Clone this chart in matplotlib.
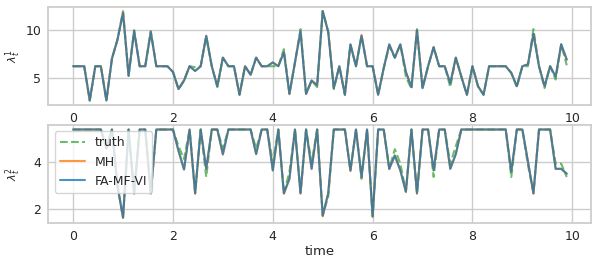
import numpy as np
import matplotlib
matplotlib.use("Agg")
import matplotlib.pyplot as plt
import seaborn as sns

# time grid (90 steps of 1/9)
time = np.arange(90) / 9.0

# lambda^1 series
vi1 = [6.2, 6.2, 6.2, 2.6, 6.2, 6.2, 2.6, 7.0, 9.0, 11.8,
       5.2, 9.9, 6.2, 6.2, 9.8, 6.2, 6.2, 6.2, 5.6, 3.8,
       4.7, 6.2, 5.7, 6.2, 9.4, 6.2, 4.1, 7.1, 6.2, 6.2,
       3.2, 6.2, 5.3, 7.1, 6.2, 6.2, 6.6, 6.2, 7.7, 3.3,
       6.6, 9.9, 3.3, 4.7, 4.2, 12.0, 9.8, 3.9, 6.2, 3.2,
       8.5, 6.2, 9.4, 6.2, 6.2, 3.2, 6.0, 8.5, 7.1, 8.5,
       5.6, 4.0, 10.0, 3.9, 6.2, 8.2, 6.2, 6.2, 4.4, 7.1,
       5.1, 3.2, 6.2, 4.1, 3.2, 6.2, 6.2, 6.2, 6.2, 5.5,
       4.1, 6.2, 6.4, 9.6, 6.2, 4.1, 6.2, 5.1, 8.5, 6.9]
truth1 = [6.2, 6.2, 6.2, 2.6, 6.2, 6.2, 2.6, 7.0, 9.0, 12.0,
          5.2, 10.0, 6.2, 6.2, 9.9, 6.2, 6.2, 6.2, 5.6, 3.8,
          4.7, 6.2, 6.1, 6.2, 9.3, 6.2, 4.0, 7.1, 6.2, 6.2,
          3.2, 6.2, 5.3, 7.1, 6.2, 6.2, 6.2, 6.2, 8.0, 3.3,
          6.6, 10.1, 3.3, 4.7, 4.0, 12.0, 9.8, 3.8, 6.2, 3.2,
          8.5, 6.2, 9.4, 6.2, 6.2, 3.2, 6.0, 8.3, 7.1, 8.5,
          5.1, 3.8, 10.1, 3.9, 6.2, 8.2, 6.2, 6.2, 4.0, 7.1,
          5.1, 3.2, 6.2, 4.1, 3.2, 6.2, 6.2, 6.2, 6.2, 5.5,
          4.0, 6.2, 6.2, 10.1, 6.2, 3.9, 6.2, 4.8, 8.5, 6.3]
mh1 = [6.2, 6.2, 6.2, 2.6, 6.2, 6.2, 2.6, 7.0, 9.0, 11.9,
       5.2, 9.9, 6.2, 6.2, 9.8, 6.2, 6.2, 6.2, 5.6, 3.8,
       4.7, 6.2, 5.7, 6.2, 9.4, 6.2, 4.1, 7.1, 6.2, 6.2,
       3.2, 6.2, 5.3, 7.1, 6.2, 6.2, 6.6, 6.2, 7.7, 3.3,
       6.6, 9.9, 3.3, 4.7, 4.2, 12.0, 9.8, 3.9, 6.2, 3.2,
       8.5, 6.2, 9.5, 6.2, 6.2, 3.2, 6.0, 8.5, 7.1, 8.5,
       5.6, 4.0, 10.0, 3.9, 6.2, 8.2, 6.2, 6.2, 4.4, 7.1,
       5.1, 3.2, 6.2, 4.1, 3.2, 6.2, 6.2, 6.2, 6.2, 5.5,
       4.1, 6.2, 6.4, 9.6, 6.2, 4.1, 6.2, 5.1, 8.5, 6.9]

# lambda^2 series
vi2 = [5.41, 5.41, 5.41, 5.41, 5.41, 5.41, 4.6, 5.41, 3.0, 1.65,
       5.41, 2.69, 5.41, 5.41, 2.69, 5.41, 5.41, 5.41, 5.41, 4.5,
       3.7, 5.41, 2.69, 5.41, 3.73, 5.41, 5.41, 4.36, 5.41, 5.41,
       5.41, 5.41, 5.41, 4.36, 5.41, 5.41, 3.66, 5.41, 2.69, 3.3,
       5.41, 2.69, 5.41, 3.73, 5.41, 1.73, 2.69, 5.41, 5.41, 5.41,
       3.66, 5.41, 3.38, 5.41, 1.7, 5.41, 5.41, 3.73, 4.3, 3.66,
       2.76, 5.41, 2.69, 5.41, 5.41, 3.66, 5.41, 5.41, 3.73, 4.36,
       5.41, 5.41, 5.41, 5.41, 5.41, 5.41, 5.41, 5.41, 5.41, 3.6,
       5.41, 5.41, 4.05, 2.69, 5.41, 5.41, 5.41, 3.73, 3.73, 3.52]
truth2 = [5.41, 5.41, 5.41, 5.41, 5.41, 5.41, 4.6, 5.41, 3.0, 1.65,
          5.41, 2.69, 5.41, 5.41, 2.69, 5.41, 5.41, 5.41, 5.41, 4.7,
          4.15, 5.41, 2.69, 5.41, 3.38, 5.41, 5.41, 4.6, 5.41, 5.41,
          5.41, 5.41, 5.41, 4.6, 5.41, 5.41, 4.0, 5.41, 2.69, 3.6,
          5.41, 2.69, 5.41, 4.0, 5.41, 1.73, 2.55, 5.41, 5.41, 5.41,
          3.66, 5.41, 3.3, 5.41, 1.7, 5.41, 5.41, 3.73, 4.57, 3.95,
          2.76, 5.41, 2.69, 5.41, 5.41, 3.38, 5.41, 5.41, 3.95, 4.7,
          5.41, 5.41, 5.41, 5.41, 5.41, 5.41, 5.41, 5.41, 5.41, 3.38,
          5.41, 5.41, 3.9, 2.69, 5.41, 5.41, 5.41, 3.95, 3.95, 3.38]
mh2 = [5.41, 5.41, 5.41, 5.41, 5.41, 5.41, 4.6, 5.41, 3.0, 1.62,
       5.41, 2.66, 5.41, 5.41, 2.66, 5.41, 5.41, 5.41, 5.41, 4.5,
       3.7, 5.41, 2.66, 5.41, 3.73, 5.41, 5.41, 4.33, 5.41, 5.41,
       5.41, 5.41, 5.41, 4.36, 5.41, 5.41, 3.66, 5.41, 2.66, 3.3,
       5.41, 2.66, 5.41, 3.73, 5.41, 1.70, 2.69, 5.41, 5.41, 5.41,
       3.63, 5.41, 3.38, 5.41, 1.67, 5.41, 5.41, 3.73, 4.3, 3.66,
       2.73, 5.41, 2.66, 5.41, 5.41, 3.66, 5.41, 5.41, 3.73, 4.36,
       5.41, 5.41, 5.41, 5.41, 5.41, 5.41, 5.41, 5.41, 5.41, 3.6,
       5.41, 5.41, 4.05, 2.66, 5.41, 5.41, 5.41, 3.73, 3.73, 3.52]

x_ticks = [0, 2, 4, 6, 8, 10]

sns.set_theme(style="whitegrid")
plt.rcParams['font.family'] = ['DejaVu Sans']

fig = plt.figure(figsize=(5.98, 2.65), dpi=100)
ax1 = fig.add_axes([0.081, 0.604, 0.908, 0.371])
ax2 = fig.add_axes([0.081, 0.160, 0.908, 0.368])

lw = 1.5
for ax, tr, mh, vi, lab in [(ax1, truth1, mh1, vi1, r'$\lambda_t^1$'),
                            (ax2, truth2, mh2, vi2, r'$\lambda_t^2$')]:
    ax.plot(time, tr, '--', color='tab:green', alpha=0.7, lw=lw, label='truth')
    ax.plot(time, mh, '-', color='tab:orange', alpha=0.8, lw=lw, label='MH')
    ax.plot(time, vi, '-', color='tab:blue', alpha=0.8, lw=lw, label='FA-MF-VI')
    ax.set_ylabel(lab, fontsize=8, color='0.15')
    ax.yaxis.set_label_coords(-0.047, 0.5)
    ax.set_xticks(x_ticks)
    ax.tick_params(labelsize=9, colors='0.15', length=0, pad=5)
    for s in ax.spines.values():
        s.set_color('0.8')

ax1.set_yticks([5, 10])
ax2.set_yticks([2, 4])
ax2.set_xlabel('time', fontsize=9.5, color='0.15', labelpad=2)
ax2.legend(loc='upper left', fontsize=9, framealpha=0.8)

fig.savefig('out.png', dpi=100)
